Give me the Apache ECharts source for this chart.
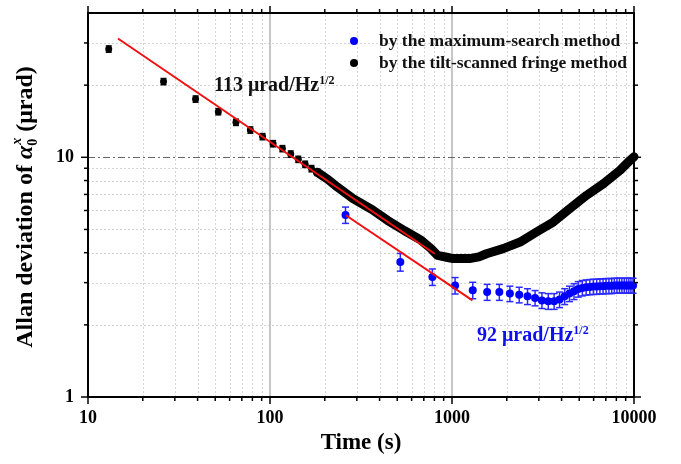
<!DOCTYPE html>
<html><head><meta charset="utf-8">
<script src="https://cdn.jsdelivr.net/npm/echarts@6/dist/echarts.min.js"></script>
<style>html,body{margin:0;padding:0;background:#fff}#c{width:681px;height:464px}</style>
</head><body><div id="c"></div>
<script>
// ---- data ----
const tiltTimes  = [13,26,39,52,65,78,91,104,117,130,143,156,169,182];
const tiltValues = [28.3,20.7,17.5,15.5,14.0,13.0,12.2,11.4,10.87,10.32,9.81,9.35,8.97,8.66];
const tiltErrors = [0.85,0.62,0.52,0.46,0.42,0.39,0.36,0.34,0.32,0.31,0.29,0.28,0.27,0.26];
const tiltDenseTimes  = [182,195,208,234,286,364,442,546,676,767,832,949,1014,1118,1248,1404,1547,1911,2366,2912,3601,4446,5486,6786,8385,9516,9997];
const tiltDenseValues = [8.66,8.36,8.09,7.52,6.73,6.05,5.46,4.95,4.51,4.16,3.90,3.82,3.78,3.78,3.78,3.84,3.96,4.16,4.43,4.88,5.37,6.11,6.94,7.76,8.83,9.72,10.05];
const maxTimes  = [260,520,780,1040,1300,1560,1820,2080,2340,2600,2860,3120,3380,3640,3900,4160,4420,4680,4940,5200,5460,5720,5980,6240,6500,6760,7020,7280,7540,7800,8060,8320,8580,8840,9100,9360,9620,9880];
const maxValues = [5.75,3.66,3.17,2.92,2.79,2.74,2.74,2.70,2.67,2.63,2.59,2.53,2.51,2.51,2.55,2.63,2.70,2.76,2.82,2.85,2.87,2.88,2.89,2.89,2.90,2.90,2.91,2.91,2.91,2.92,2.92,2.92,2.92,2.92,2.92,2.92,2.92,2.92];
const maxErrors = [0.45,0.31,0.25,0.23,0.22,0.21,0.21,0.20,0.20,0.20,0.19,0.19,0.19,0.19,0.19,0.20,0.20,0.21,0.21,0.21,0.21,0.21,0.21,0.21,0.21,0.21,0.21,0.21,0.21,0.21,0.21,0.21,0.21,0.21,0.21,0.21,0.21,0.21];
const fitTiltTimes = [14.6, 803];
const fitTiltValues = [31.3, 3.96];
const fitMaxTimes = [261, 1295];
const fitMaxValues = [5.73, 2.53];
const xMajorTicks = [10,100,1000,10000];
const xMinorTicks = [20,30,40,50,60,70,80,90,200,300,400,500,600,700,800,900,2000,3000,4000,5000,6000,7000,8000,9000];
const yMajorTicks = [1,10];
const yMinorTicks = [2,3,4,5,6,7,8,9,20,30];
const xRange = [10,10000];
const yRange = [1,40];
const nameMax = 'by the maximum-search method';
const nameTilt = 'by the tilt-scanned fringe method';

// ---- helpers ----
const FF = "'Liberation Serif','Times New Roman',serif";
const zip = (a,b)=>a.map((v,i)=>[v,b[i]]);
const zip3 = (a,b,c)=>a.map((v,i)=>[v,b[i],c[i]]);
const isPow10 = v => Math.abs(Math.log10(v)-Math.round(Math.log10(v)))<1e-6;
const ctx = document.createElement('canvas').getContext('2d');
function mw(t,font){ctx.font=font;return ctx.measureText(t).width;}

function errRender(color, cap, lw){
  return function(params, api){
    const x=api.value(0), y=api.value(1), e=api.value(2);
    const p1=api.coord([x,y-e]), p2=api.coord([x,y+e]);
    const st={stroke:color,lineWidth:lw};
    return {type:'group',children:[
      {type:'line',shape:{x1:p1[0],y1:p1[1],x2:p2[0],y2:p2[1]},style:st},
      {type:'line',shape:{x1:p1[0]-cap,y1:p1[1],x2:p1[0]+cap,y2:p1[1]},style:st},
      {type:'line',shape:{x1:p2[0]-cap,y1:p2[1],x2:p2[0]+cap,y2:p2[1]},style:st}
    ]};
  };
}

function frameRender(grid){
  return function(params, api){
    const bl=api.coord([xRange[0],yRange[0]]), tr=api.coord([xRange[1],yRange[1]]);
    const x0=bl[0], y0=bl[1], x1=tr[0], y1=tr[1];
    const ch=[];
    if(grid){
      const gs={stroke:'#d4d4d4',lineWidth:1,lineDash:[2,2]};
      xMinorTicks.forEach(v=>{const x=Math.round(api.coord([v,1])[0])+0.5;ch.push({type:'line',shape:{x1:x,y1:y0,x2:x,y2:y1},style:gs});});
      yMinorTicks.forEach(v=>{const y=Math.round(api.coord([10,v])[1])+0.5;ch.push({type:'line',shape:{x1:x0,y1:y,x2:x1,y2:y},style:gs});});
      xMajorTicks.forEach(v=>{if(v===xRange[0]||v===xRange[1])return;const x=api.coord([v,1])[0];ch.push({type:'line',shape:{x1:x,y1:y0,x2:x,y2:y1},style:{stroke:'#c6c6c6',lineWidth:2}});});
      yMajorTicks.forEach(v=>{if(v===yRange[0])return;const y=Math.round(api.coord([10,v])[1])+0.5;ch.push({type:'line',shape:{x1:x0,y1:y,x2:x1,y2:y},style:{stroke:'#666',lineWidth:1,lineDash:[7,3,2,3]}});});
    } else {
      const ts={stroke:'#000',lineWidth:1.5};
      const addX=(v,len)=>{const x=api.coord([v,1])[0];
        ch.push({type:'line',shape:{x1:x,y1:y0,x2:x,y2:y0+len},style:ts});
        ch.push({type:'line',shape:{x1:x,y1:y1,x2:x,y2:y1-len},style:ts});};
      const addY=(v,len)=>{const y=api.coord([10,v])[1];
        ch.push({type:'line',shape:{x1:x0,y1:y,x2:x0-len,y2:y},style:ts});
        ch.push({type:'line',shape:{x1:x1,y1:y,x2:x1+len,y2:y},style:ts});};
      xMajorTicks.forEach(v=>addX(v,7)); xMinorTicks.forEach(v=>addX(v,4));
      yMajorTicks.forEach(v=>addY(v,7)); yMinorTicks.forEach(v=>addY(v,4));
    }
    return {type:'group',children:ch};
  };
}

// ---- y title (rotated, with stacked sub/superscript) ----
const fMain="bold 24px "+FF, fIt="italic bold 24px "+FF, fS="bold 14px "+FF, fSI="italic bold 14px "+FF;
const segA='Allan deviation of ', segB=' (\u03bcrad)';
const wA=mw(segA,fMain), wAl=mw('\u03b1',fIt), wSub=Math.max(mw('0',fS),mw('x',fSI))+1, wB=mw(segB,fMain);
const W=wA+wAl+wSub+wB;
let sx=-W/2;
const ytChildren=[
  {type:'text',style:{x:sx,y:0,text:segA,font:fMain,fill:'#000',verticalAlign:'middle',align:'left'}},
  {type:'text',style:{x:sx+wA,y:0,text:'\u03b1',font:fIt,fill:'#000',verticalAlign:'middle',align:'left'}},
  {type:'text',style:{x:sx+wA+wAl,y:7,text:'0',font:fS,fill:'#000',verticalAlign:'middle',align:'left'}},
  {type:'text',style:{x:sx+wA+wAl+1,y:-9,text:'x',font:fSI,fill:'#000',verticalAlign:'middle',align:'left'}},
  {type:'text',style:{x:sx+wA+wAl+wSub,y:0,text:segB,font:fMain,fill:'#000',verticalAlign:'middle',align:'left'}}
];

const chart = echarts.init(document.getElementById('c'), null, {renderer:'canvas'});
const axisLineStyle={show:true,lineStyle:{color:'#000',width:2}};
chart.setOption({
  animation:false,
  backgroundColor:'#fff',
  grid:{left:88,right:47,top:13,bottom:67,containLabel:false},
  legend:{
    data:[{name:nameMax,icon:'circle'},{name:nameTilt,icon:'circle'}],
    orient:'vertical', left:345, top:26, itemWidth:40, itemHeight:8, itemGap:2,
    selectedMode:false,
    textStyle:{fontFamily:FF,fontWeight:'bold',fontSize:17.5,color:'#111',lineHeight:20}
  },
  xAxis:[
    {type:'log',logBase:10,min:xRange[0],max:xRange[1],position:'bottom',
     name:'Time (s)',nameLocation:'middle',nameGap:35,
     nameTextStyle:{fontFamily:FF,fontWeight:'bold',fontSize:23,color:'#000'},
     axisLine:axisLineStyle,axisTick:{show:false},splitLine:{show:false},minorTick:{show:false},
     axisLabel:{margin:12,fontFamily:FF,fontWeight:'bold',fontSize:18,color:'#000',
       formatter:v=>isPow10(v)?String(Math.round(v)):''}},
    {type:'log',logBase:10,min:xRange[0],max:xRange[1],position:'top',
     axisLine:axisLineStyle,axisTick:{show:false},splitLine:{show:false},axisLabel:{show:false}}
  ],
  yAxis:[
    {type:'log',logBase:10,min:yRange[0],max:yRange[1],position:'left',
     axisLine:axisLineStyle,axisTick:{show:false},splitLine:{show:false},minorTick:{show:false},
     axisLabel:{margin:14,fontFamily:FF,fontWeight:'bold',fontSize:18,color:'#000',
       formatter:v=>isPow10(v)?String(Math.round(v)):''}},
    {type:'log',logBase:10,min:yRange[0],max:yRange[1],position:'right',
     axisLine:axisLineStyle,axisTick:{show:false},splitLine:{show:false},axisLabel:{show:false}}
  ],
  graphic:[
    {type:'group',x:26,y:207,rotation:Math.PI/2,children:ytChildren},
    {type:'text',x:214,y:86,z:10,style:{text:'{m|113 \u03bcrad/Hz}{s|1/2}',verticalAlign:'middle',align:'left',
      rich:{m:{fontFamily:FF,fontWeight:'bold',fontSize:20,fill:'#111',lineHeight:22},
            s:{fontFamily:FF,fontWeight:'bold',fontSize:12,fill:'#111',verticalAlign:'top',lineHeight:12}}}},
    {type:'text',x:477,y:336,z:10,style:{text:'{m|92 \u03bcrad/Hz}{s|1/2}',verticalAlign:'middle',align:'left',
      rich:{m:{fontFamily:FF,fontWeight:'bold',fontSize:20,fill:'#1010ee',lineHeight:22},
            s:{fontFamily:FF,fontWeight:'bold',fontSize:12,fill:'#1010ee',verticalAlign:'top',lineHeight:12}}}}
  ],
  series:[
    {type:'custom',name:'gridlines',xAxisIndex:0,yAxisIndex:0,data:[[100,5]],renderItem:frameRender(true),z:0,silent:true},
    {type:'custom',name:'maxErr',data:zip3(maxTimes,maxValues,maxErrors),encode:{x:0,y:1},renderItem:errRender('#2a2aff',3.5,1.5),z:2},
    {type:'custom',name:'tiltErr',data:zip3(tiltTimes,tiltValues,tiltErrors),encode:{x:0,y:1},renderItem:errRender('#000',3,1.5),z:2},
    {type:'line',name:'tiltDense',data:zip(tiltDenseTimes,tiltDenseValues),showSymbol:false,symbol:'none',
      lineStyle:{color:'#000',width:9,cap:'round',join:'round'},z:3},
    {type:'scatter',name:nameTilt,data:zip(tiltTimes,tiltValues),symbol:'circle',symbolSize:7,itemStyle:{color:'#000',opacity:1},z:3},
    {type:'scatter',name:nameMax,data:zip(maxTimes,maxValues),symbol:'circle',symbolSize:8,itemStyle:{color:'#0000ff',opacity:1},z:3},
    {type:'line',name:'fitTilt',data:zip(fitTiltTimes,fitTiltValues),showSymbol:false,symbol:'none',lineStyle:{color:'#f01010',width:2},z:4},
    {type:'line',name:'fitMax',data:zip(fitMaxTimes,fitMaxValues),showSymbol:false,symbol:'none',lineStyle:{color:'#f01010',width:2},z:4},
    {type:'custom',name:'ticks',data:[[100,5]],renderItem:frameRender(false),z:6,silent:true}
  ]
});
</script></body></html>
